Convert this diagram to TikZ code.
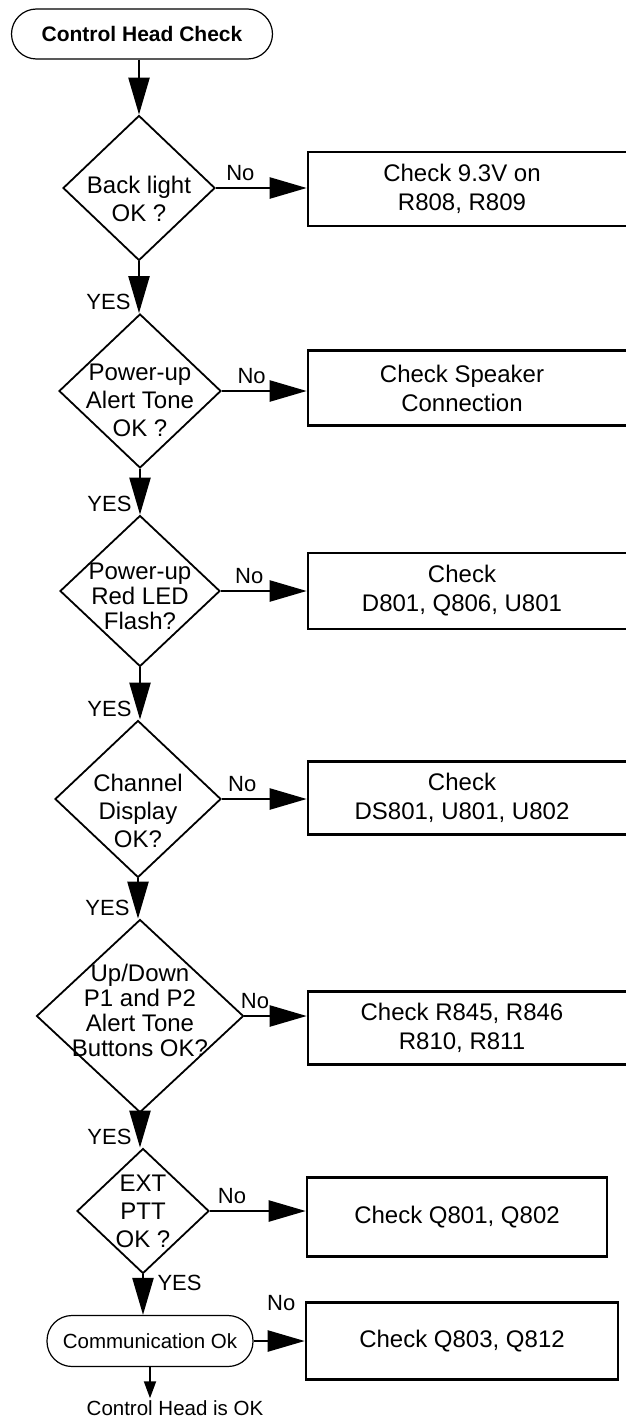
\documentclass[tikz,border=0pt]{standalone}
\usepackage{fontspec}
\setmainfont{Liberation Sans}
\usetikzlibrary{arrows.meta,positioning,shapes.geometric}

\tikzset{
  term/.style={draw, line width=1.2pt, rounded corners=25pt, minimum height=50pt, inner sep=0pt},
  dec/.style={draw, diamond, line width=1.8pt, inner sep=0pt},
  chk/.style={draw, line width=2.6pt, minimum width=332pt, inner sep=0pt, align=center,
              font=\fontsize{24}{29}\selectfont},
  txt/.style={align=center, inner sep=0pt, font=\fontsize{24}{28}\selectfont},
  flow/.style={line width=2.4pt, -{Triangle[length=37pt,width=21pt]}},
  nolbl/.style={above=3pt, font=\fontsize{22}{24}\selectfont},
  yeslbl/.style={font=\fontsize{22}{24}\selectfont}
}

\begin{document}
\begin{tikzpicture}[x=1pt, y=-1pt]
  \useasboundingbox (0,0) rectangle (625,1418);

  % start
  \node[term, minimum width=261pt, font=\bfseries\fontsize{21}{25}\selectfont] (start) at (142,34) {Control Head Check};

  % decisions
  \node[dec, minimum width=152pt, minimum height=145pt,
        label={[txt, yshift=-11pt]center:Back light\\OK ?}] (d1) at (139,188) {};
  \node[dec, minimum width=162pt, minimum height=154pt,
        label={[txt, yshift=-9pt]center:Power-up\\Alert Tone\\OK ?}] (d2) at (140,391) {};
  \node[dec, minimum width=160pt, minimum height=151pt,
        label={[txt, yshift=-5pt, font=\fontsize{24}{25}\selectfont]center:Power-up\\Red LED\\Flash?}] (d3) at (140,591) {};
  \node[dec, minimum width=166pt, minimum height=157pt,
        label={[txt, yshift=-12pt]center:Channel\\Display\\OK?}] (d4) at (138,799) {};
  \node[dec, minimum width=207pt, minimum height=193pt,
        label={[txt, yshift=6pt, font=\fontsize{24}{25}\selectfont]center:Up/Down\\P1 and P2\\Alert Tone\\Buttons OK?}] (d5) at (140,1016) {};
  \node[dec, minimum width=132pt, minimum height=125pt,
        label={[txt]center:EXT\\PTT\\OK ?}] (d6) at (143,1211) {};

  % checks
  \node[chk, minimum height=74pt, label={[txt, xshift=-12pt, font=\fontsize{24}{29}\selectfont]center:Check 9.3V on\\R808, R809}] (c1) at (474,189) {};
  \node[chk, minimum height=75pt, label={[txt, xshift=-12pt, font=\fontsize{24}{29}\selectfont]center:Check Speaker\\Connection}] (c2) at (474,388) {};
  \node[chk, minimum height=76pt, label={[txt, xshift=-12pt, font=\fontsize{24}{29}\selectfont]center:Check\\D801, Q806, U801}] (c3) at (474,591) {};
  \node[chk, minimum height=73pt, label={[txt, xshift=-12pt, font=\fontsize{24}{29}\selectfont]center:Check\\DS801, U801, U802}] (c4) at (474,798) {};
  \node[chk, minimum height=73pt, label={[txt, xshift=-12pt, font=\fontsize{24}{29}\selectfont]center:Check R845, R846\\R810, R811}] (c5) at (474,1028) {};
  \node[chk, minimum width=300pt, minimum height=79pt] (c6) at (457,1217) {Check Q801, Q802};
  \node[chk, minimum width=312pt, minimum height=77pt] (c7) at (462,1341) {Check Q803, Q812};

  % end
  \node[term, minimum width=206pt, minimum height=51pt, font=\fontsize{20.5}{24}\selectfont] (t2) at (150,1341) {Communication Ok};
  \node[inner sep=2pt, font=\fontsize{20.5}{24}\selectfont] (e) at (175,1408) {Control Head is OK};

  % arrows
  \draw[flow] (d1.north |- start.south) -- (d1.north);
  \foreach \i/\p in {1/0.27,2/0.35,3/0.33,4/0.24,5/0.17,6/0.23}
    \draw[flow] (d\i.east) -- node[nolbl, pos=\p] {No} (d\i.east -| c\i.west);
  \foreach \i/\j in {1/2,2/3,3/4,4/5,5/6}
    \draw[flow] (d\i.south) -- node[yeslbl, pos=1, left=4pt, yshift=11pt] {YES} (d\i.south |- d\j.north);
  \draw[flow] (d6.south) -- node[yeslbl, pos=0.2, right=10pt] {YES} (d6.south |- t2.north);
  \draw[flow] (t2.east) -- node[nolbl, pos=0.54, above=26pt] {No} (t2.east -| c7.west);
  \draw[line width=2pt, -{Triangle[length=17pt,width=12pt]}] (t2.south) -- (t2.south |- e.north);
\end{tikzpicture}
\end{document}
